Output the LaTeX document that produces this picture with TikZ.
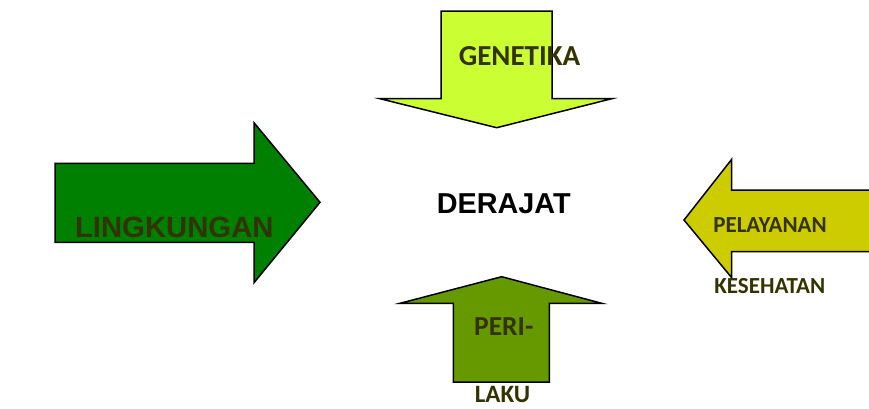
\documentclass[tikz,border=0pt]{standalone}
\usepackage{fontspec}
\setmainfont{Liberation Sans}
\newfontfamily\calfont{Carlito}
\definecolor{genfill}{RGB}{204,255,51}
\definecolor{lingfill}{RGB}{0,128,0}
\definecolor{pelfill}{RGB}{204,204,0}
\definecolor{perfill}{RGB}{102,153,0}
\definecolor{olivetext}{RGB}{51,51,0}
\tikzset{
  bigarrow/.style={draw=black, line width=1.5pt, line join=miter},
  lbl/.style={inner sep=0pt, anchor=base, text=olivetext, font=\calfont\bfseries}
}
\begin{document}
\begin{tikzpicture}[x=1pt, y=-1pt]
   \useasboundingbox (0,0) rectangle (869,408);
   % arrows
   \draw [bigarrow, fill=genfill] (441,11) -- (552,11) -- (552,98.7) -- (611.7,98.7) -- (496.7,127.7) -- (380,98.7) -- (441,98.7) -- cycle;
   \draw [bigarrow, fill=lingfill] (55,163.3) -- (254,163.3) -- (254,122.7) -- (320,202.3) -- (254,282.7) -- (254,242.3) -- (55,242.3) -- cycle;
   \draw [bigarrow, fill=pelfill] (880,190) -- (731.7,190) -- (731.7,159.3) -- (684,220) -- (731.7,277.7) -- (731.7,251.7) -- (880,251.7);
   \draw [bigarrow, fill=perfill] (453.3,382) -- (453.3,303.3) -- (400,303.3) -- (501.7,276.7) -- (601.7,303.3) -- (549.3,303.3) -- (549.3,382) -- cycle;
   % labels
   \node (genetika) [lbl, font=\calfont\bfseries\fontsize{29}{29}\selectfont] at (519.5,65) {GENETIKA};
   \node (derajat) [inner sep=0pt, anchor=base, font=\bfseries\fontsize{28.8}{28.8}\selectfont] at (503.8,213.3) {DERAJAT};
   \node (lingkungan) [inner sep=0pt, anchor=base, text=olivetext, font=\bfseries\fontsize{29.3}{29.3}\selectfont] at (174.3,237) {LINGKUNGAN};
   \node (pelayanan) [lbl, font=\calfont\bfseries\fontsize{23}{23}\selectfont] at (770,232.7) {PELAYANAN};
   \node (kesehatan) [lbl, font=\calfont\bfseries\fontsize{23}{23}\selectfont] at (769.8,293.3) {KESEHATAN};
   \node (peri) [lbl, font=\calfont\bfseries\fontsize{27.5}{27.5}\selectfont] at (503.8,335.7) {PERI-};
   \node (laku) [lbl, text depth=0pt, font=\calfont\bfseries\fontsize{25}{25}\selectfont] at (502.5,402) {LAKU};
\end{tikzpicture}
\end{document}
